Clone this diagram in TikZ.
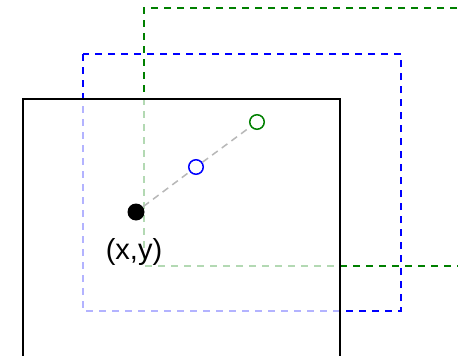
\documentclass[tikz,border=0pt]{standalone}
\usepackage{fontspec}
\setmainfont{Liberation Sans}
\begin{document}
\begin{tikzpicture}[x=1pt,y=-1pt,
  framebox/.style={line width=2pt,dash pattern=on 7pt off 6pt},
  pt/.style={circle,inner sep=0pt,minimum size=14.5pt,line width=1.5pt},
  link/.style={draw=black!28,line width=1.5pt,dash pattern=on 7pt off 5pt}]
\useasboundingbox (0,0) rectangle (458,356);
% green frame
\draw[framebox,draw={rgb,255:red,0;green,128;blue,0}] (470,8) -- (144,8) -- (144,266) -- (470,266);
% blue frame
\draw[framebox,blue] (83,54) rectangle (401,311);
% black box with translucent white fill
\fill[white,opacity=0.7] (23,99) rectangle (340,358);
\draw[line width=2pt] (23,358) -- (23,99) -- (340,99) -- (340,358);
% points
\node[pt,fill=black,minimum size=17pt] (p) at (136,212) {};
\node[pt,draw=blue,fill=white] (b) at (196,167) {};
\node[pt,draw={rgb,255:red,0;green,128;blue,0},fill=white] (g) at (257,122) {};
\draw[link] (p) -- (b);
\draw[link] (b) -- (g);
\node[font=\fontsize{29}{32}\selectfont,inner sep=0pt] (lbl) at (134,252) {(x,y)};
\end{tikzpicture}
\end{document}
